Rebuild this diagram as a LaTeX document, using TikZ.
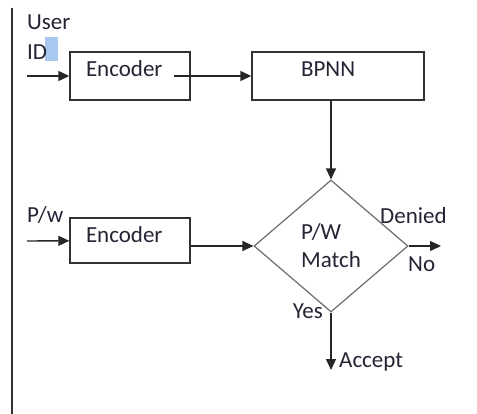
\documentclass[tikz,border=0pt]{standalone}
\usepackage{fontspec}
\setmainfont{Carlito}
\usetikzlibrary{positioning, arrows.meta, shapes.geometric}
\definecolor{inkblue}{RGB}{36,36,52}
\definecolor{edgegray}{RGB}{50,50,50}
\definecolor{selblue}{RGB}{168,200,240}

\begin{document}
\begin{tikzpicture}[x=1pt, y=-1pt, >={Triangle[length=11pt,width=10pt]},
    every node/.style={font=\fontsize{23}{28}\selectfont, text=inkblue},
    block/.style={draw=edgegray, line width=1.4pt, rectangle, align=left, inner ysep=0pt, text height=15pt},
    decision/.style={draw=gray!85!black, line width=1.2pt, diamond, inner sep=0pt, align=left, minimum width=154pt, minimum height=132pt},
    flow/.style={->, line width=1.4pt, draw=black!85},
    tag/.style={inner sep=0pt}]
    \useasboundingbox (0,0) rectangle (477,414);

    % left margin rule
    \draw[edgegray, line width=1.6pt] (12,8) -- (12,414);

    \node[block, text width=88pt, inner xsep=16pt, text depth=13pt, minimum height=48pt] (enc1) at (130,76) {Encoder};
    \node[block, text width=74pt, inner xsep=49pt, text depth=13pt, minimum height=48pt] (bpnn) at (338,76) {BPNN};
    \node[block, text width=88pt, inner xsep=16pt, text depth=10pt, minimum height=45pt] (enc2) at (130,240.5) {Encoder};
    \node[decision] (dia) at (331,246) {P/W\\Match};

    % inputs and labels
    \fill[selblue] (45,37) rectangle (58,61);
    \node[tag, anchor=base west] (user) at (27,30) {User};
    \node[tag, anchor=base west] (id) at (27,60) {ID};
    \node[tag, anchor=base west] (pw) at (27,223) {P/w};
    \node[tag, anchor=base west] (denied) at (380,224) {Denied};
    \node[tag, anchor=base west] (no) at (408,272) {No};
    \node[tag, anchor=base east] (yes) at (323,319) {Yes};
    \node[tag, anchor=base west] (accept) at (339,367) {Accept};

    \coordinate (in1) at (27,76);
    \coordinate (in2) at (27,241);
    \coordinate (out) at (441,246);
    \coordinate (acc) at (331,370);

    \draw[flow] (in1) -- (enc1);
    \draw[flow] ([xshift=-17pt]enc1.east) -- (bpnn.west);
    \draw[flow] (bpnn.south -| dia.north) -- (dia.north);
    \draw[flow] (in2) -- (enc2);
    \draw[flow] (enc2.east |- dia.west) -- (dia.west);
    \draw[flow] (dia.east) -- (out);
    \draw[flow] (dia.south) -- (acc);
\end{tikzpicture}
\end{document}
